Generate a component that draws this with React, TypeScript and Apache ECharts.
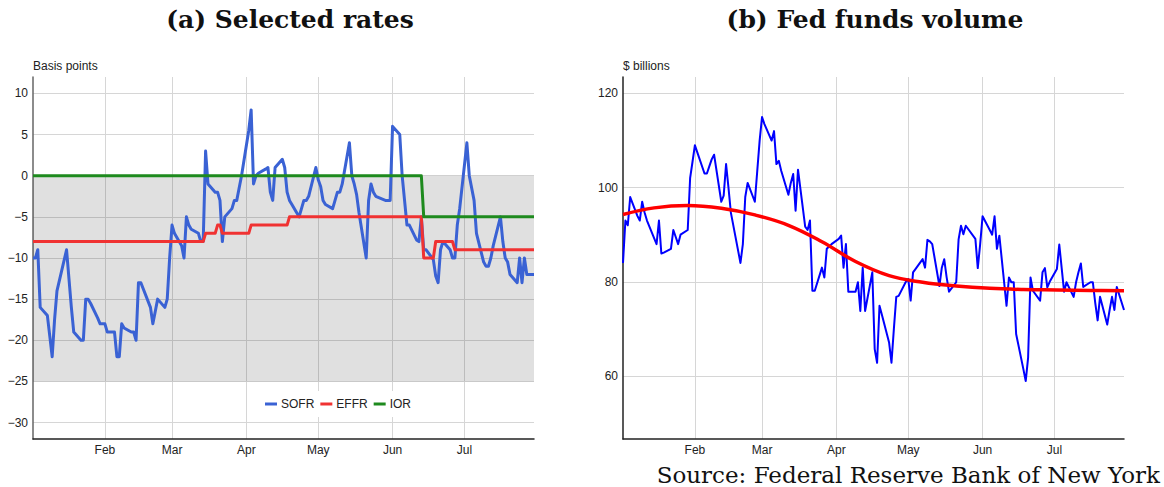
import React, { useEffect, useRef } from 'react';
import * as echarts from 'echarts';

// ---------- axis calendar ----------
const monthNames = ['Jan', 'Feb', 'Mar', 'Apr', 'May', 'Jun', 'Jul'];
const monthLengths = [31, 28, 31, 30, 31, 30, 31];
const firstDay = '01-02';
const lastDay = '07-30';

// ---------- (a) selected rates, basis points ----------
const sofr: [string, number][] = [
  ['01-02', -10], ['01-03', -10], ['01-04', -9], ['01-05', -16], ['01-08', -17], ['01-09', -19.5],
  ['01-10', -22], ['01-11', -17.5], ['01-12', -14], ['01-16', -9], ['01-17', -12.5], ['01-18', -16],
  ['01-19', -19], ['01-22', -20], ['01-23', -20], ['01-24', -15], ['01-25', -15], ['01-26', -15.5],
  ['01-29', -17.3], ['01-30', -18], ['01-31', -18], ['02-01', -18], ['02-02', -19], ['02-05', -19],
  ['02-06', -22], ['02-07', -22], ['02-08', -18], ['02-09', -18.5], ['02-12', -19], ['02-13', -19],
  ['02-14', -20], ['02-15', -13], ['02-16', -13], ['02-20', -16], ['02-21', -18], ['02-22', -16.5],
  ['02-23', -15], ['02-26', -16], ['02-27', -15], ['02-28', -10], ['03-01', -6], ['03-02', -7],
  ['03-05', -8.5], ['03-06', -10], ['03-07', -5], ['03-08', -6], ['03-09', -6.5], ['03-12', -7],
  ['03-13', -8], ['03-14', -8], ['03-15', 3], ['03-16', -1], ['03-19', -2], ['03-20', -2],
  ['03-21', -3], ['03-22', -8], ['03-23', -5], ['03-26', -4], ['03-27', -3], ['03-28', -3],
  ['03-29', -1.5], ['03-30', 0], ['04-02', 5.5], ['04-03', 8], ['04-04', -1], ['04-05', 0],
  ['04-06', 0.3], ['04-09', 0.8], ['04-10', 1], ['04-11', -2], ['04-12', -3], ['04-13', 1],
  ['04-16', 2], ['04-17', 1], ['04-18', -2], ['04-19', -3], ['04-20', -3.5], ['04-23', -5],
  ['04-24', -4], ['04-25', -3], ['04-26', -3], ['04-27', -2.5], ['04-30', 1], ['05-01', -0.5],
  ['05-02', -1.3], ['05-03', -3], ['05-04', -3.5], ['05-07', -4], ['05-08', -3], ['05-09', -2],
  ['05-10', -2], ['05-11', -1], ['05-14', 4], ['05-15', 0], ['05-16', -1], ['05-17', -2.3],
  ['05-18', -4.5], ['05-21', -10], ['05-22', -3], ['05-23', -1], ['05-24', -2], ['05-25', -2.5],
  ['05-29', -3], ['05-30', -3], ['05-31', -3], ['06-01', 6], ['06-04', 5], ['06-05', 0],
  ['06-06', -3], ['06-07', -6], ['06-08', -6], ['06-11', -7.8], ['06-12', -8], ['06-13', -5],
  ['06-14', -9], ['06-15', -9], ['06-18', -10.2], ['06-19', -12.2], ['06-20', -13], ['06-21', -9],
  ['06-22', -8], ['06-25', -9], ['06-26', -10], ['06-27', -10], ['06-28', -6], ['06-29', -4],
  ['07-02', 4], ['07-03', 0], ['07-05', -3], ['07-06', -7], ['07-09', -10.5], ['07-10', -11],
  ['07-11', -11], ['07-12', -10], ['07-13', -8.5], ['07-16', -5], ['07-17', -8], ['07-18', -10],
  ['07-19', -10.5], ['07-20', -12], ['07-23', -13], ['07-24', -10], ['07-25', -13], ['07-26', -10],
  ['07-27', -12], ['07-30', -12],
];

const effr: [string, number][] = [
  ['01-02', -8], ['03-14', -8], ['03-15', -7], ['03-19', -7], ['03-20', -6], ['03-21', -6],
  ['03-22', -7], ['04-02', -7], ['04-03', -6], ['04-18', -6], ['04-19', -5], ['06-13', -5],
  ['06-14', -10], ['06-18', -10], ['06-19', -8], ['06-26', -8], ['06-27', -9], ['07-30', -9],
];

const ior: [string, number][] = [
  ['01-02', 0], ['06-13', 0], ['06-14', -5], ['07-30', -5],
];

const shadedBand = [0, -25];

// ---------- (b) fed funds volume, $ billions ----------
const volume: [string, number][] = [
  ['01-02', 84], ['01-03', 93], ['01-04', 92], ['01-05', 98], ['01-08', 94], ['01-09', 93],
  ['01-10', 97], ['01-11', 94.7], ['01-12', 93], ['01-16', 88], ['01-17', 93], ['01-18', 86],
  ['01-19', 86.2], ['01-22', 87], ['01-23', 91], ['01-24', 89.5], ['01-25', 88], ['01-26', 90],
  ['01-29', 91], ['01-30', 102], ['01-31', 105.5], ['02-01', 109], ['02-02', 107.5], ['02-05', 103],
  ['02-06', 103], ['02-07', 104.5], ['02-08', 106], ['02-09', 107], ['02-12', 97], ['02-13', 98.3],
  ['02-14', 105], ['02-15', 100], ['02-16', 94.7], ['02-20', 84], ['02-21', 88], ['02-22', 98],
  ['02-23', 101], ['02-26', 97], ['02-27', 103.5], ['02-28', 110], ['03-01', 115], ['03-02', 113.5],
  ['03-05', 110], ['03-06', 112], ['03-07', 105], ['03-08', 105.7], ['03-09', 103.6], ['03-12', 98.5],
  ['03-13', 101], ['03-14', 102.9], ['03-15', 95.1], ['03-16', 103.8], ['03-19', 91.7], ['03-20', 91],
  ['03-21', 93], ['03-22', 78.1], ['03-23', 78.1], ['03-26', 83], ['03-27', 80.9], ['03-28', 87],
  ['03-29', 87.5], ['03-30', 88], ['04-02', 89.1], ['04-03', 89.8], ['04-04', 83], ['04-05', 88],
  ['04-06', 77.9], ['04-09', 77.9], ['04-10', 79.9], ['04-11', 73.8], ['04-12', 83], ['04-13', 73.8],
  ['04-16', 82], ['04-17', 65.7], ['04-18', 62.8], ['04-19', 74.9], ['04-20', 73], ['04-23', 67.1],
  ['04-24', 62.8], ['04-25', 70], ['04-26', 76.8], ['04-27', 77], ['04-30', 80], ['05-01', 80.6],
  ['05-02', 76], ['05-03', 82], ['05-04', 82.7], ['05-07', 84.8], ['05-08', 83], ['05-09', 88.9],
  ['05-10', 88.6], ['05-11', 88], ['05-14', 79.1], ['05-15', 83], ['05-16', 84.8], ['05-17', 81],
  ['05-18', 77.9], ['05-21', 79.9], ['05-22', 89], ['05-23', 91.9], ['05-24', 90.1], ['05-25', 91.9],
  ['05-29', 89.1], ['05-30', 82.9], ['05-31', 88], ['06-01', 93.9], ['06-04', 91], ['06-05', 90],
  ['06-06', 93.9], ['06-07', 87], ['06-08', 89.8], ['06-11', 74.9], ['06-12', 80.9], ['06-13', 79.9],
  ['06-14', 79.9], ['06-15', 68.9], ['06-18', 61.5], ['06-19', 58.9], ['06-20', 63.9], ['06-21', 80.9],
  ['06-22', 78.1], ['06-25', 76], ['06-26', 82], ['06-27', 82.9], ['06-28', 78.8], ['06-29', 80],
  ['07-02', 82.7], ['07-03', 87.9], ['07-05', 77.9], ['07-06', 79.9], ['07-09', 76.8], ['07-10', 79.9],
  ['07-11', 82], ['07-12', 83.9], ['07-13', 78.9], ['07-16', 79.9], ['07-17', 79.9], ['07-18', 75.5],
  ['07-19', 71.8], ['07-20', 76.8], ['07-23', 70.9], ['07-24', 74], ['07-25', 76.8], ['07-26', 74],
  ['07-27', 78.9], ['07-30', 74],
];

const volumeTrend: [string, number][] = [
  ['01-02', 94.3], ['01-15', 95.7], ['01-29', 96.2], ['02-12', 95.6], ['02-26', 94.2],
  ['03-12', 92.0], ['03-26', 88.5], ['04-09', 84.3], ['04-23', 81.3], ['05-07', 79.9],
  ['05-21', 79.1], ['06-04', 78.6], ['06-18', 78.35], ['07-02', 78.25], ['07-16', 78.15],
  ['07-30', 78.1],
];

const titleA = '(a) Selected rates';
const titleB = '(b) Fed funds volume';
const sourceText = 'Source: Federal Reserve Bank of New York';
const unitA = 'Basis points';
const unitB = '$ billions';

function buildDays(): string[] {
  const out: string[] = [];
  for (let m = 0; m < monthLengths.length; m++) {
    for (let d = 1; d <= monthLengths[m]; d++) {
      const s = `${String(m + 1).padStart(2, '0')}-${String(d).padStart(2, '0')}`;
      if (s >= firstDay && s <= lastDay) out.push(s);
    }
  }
  return out;
}

const SANS = '"Liberation Sans", Arial, sans-serif';
const SERIF = '"DejaVu Serif", serif';

export default function App() {
  const ref = useRef<HTMLDivElement>(null);

  useEffect(() => {
    if (!ref.current) return;
    const chart = echarts.init(ref.current, null, { renderer: 'svg' });
    const days = buildDays();
    const isMonthStart = (_i: number, v: string) => typeof v === 'string' && v.endsWith('-01');
    const monthLabel = (v: string) => (v.endsWith('-01') ? monthNames[parseInt(v.slice(0, 2), 10) - 1] : '');
    const minus = (v: number) => (v < 0 ? '\u2212' + Math.abs(v) : String(v));

    const xAxisBase = (gridIndex: number) => ({
      type: 'category',
      gridIndex,
      data: days,
      boundaryGap: false,
      axisLine: { show: true, onZero: false, lineStyle: { color: '#222', width: 1.5 } },
      axisTick: { show: false },
      axisLabel: {
        interval: isMonthStart,
        formatter: monthLabel,
        fontFamily: SANS,
        fontSize: 12,
        color: '#222',
        margin: 5,
      },
      splitLine: { show: true, interval: isMonthStart, lineStyle: { color: '#d6d6d6', width: 1 } },
    });

    const yAxisBase = (gridIndex: number, min: number, max: number, step: number, name: string, lineColor: string) => ({
      type: 'value',
      gridIndex,
      min,
      max,
      minInterval: step,
      maxInterval: step,
      splitNumber: Math.round((max - min) / step),
      name,
      nameLocation: 'end',
      nameGap: 11,
      nameTextStyle: { align: 'left', verticalAlign: 'middle', fontFamily: SANS, fontSize: 12, color: '#222' },
      axisLine: { show: true, lineStyle: { color: lineColor, width: 1.5 } },
      axisTick: { show: false },
      axisLabel: {
        formatter: minus,
        fontFamily: SANS,
        fontSize: 12,
        color: '#222',
        margin: 5,
        showMinLabel: false,
        showMaxLabel: false,
      },
      splitLine: { show: true, showMinLine: false, showMaxLine: false, lineStyle: { color: '#d6d6d6', width: 1 } },
    });

    const option: any = {
      animation: false,
      backgroundColor: '#fff',
      grid: [
        { left: 33, top: 77, width: 501, bottom: 48, containLabel: false, outerBoundsMode: 'none' },
        { left: 623, top: 77, width: 501, bottom: 48, containLabel: false, outerBoundsMode: 'none' },
      ],
      xAxis: [xAxisBase(0), xAxisBase(1)],
      yAxis: [
        yAxisBase(0, -32, 12, 5, unitA, '#666'),
        yAxisBase(1, 46.6, 123.5, 20, unitB, '#222'),
      ],
      legend: {
        data: ['SOFR', 'EFFR', 'IOR'],
        left: 260,
        top: 391,
        orient: 'horizontal',
        backgroundColor: '#fff',
        padding: [7, 5],
        icon: 'rect',
        itemWidth: 12,
        itemHeight: 3,
        itemGap: 6,
        textStyle: { fontFamily: SANS, fontSize: 12, color: '#222', padding: [0, 0, 0, -1] },
      },
      graphic: [
        {
          type: 'text', x: 290, y: 19,
          style: { text: titleA, align: 'center', verticalAlign: 'middle', fontFamily: SERIF, fontWeight: 'bold', fontSize: 25, fill: '#111' },
        },
        {
          type: 'text', x: 875, y: 19,
          style: { text: titleB, align: 'center', verticalAlign: 'middle', fontFamily: SERIF, fontWeight: 'bold', fontSize: 25, fill: '#111' },
        },
        {
          type: 'text', x: 1160, y: 475,
          style: { text: sourceText, align: 'right', verticalAlign: 'middle', fontFamily: SERIF, fontSize: 23, fill: '#111' },
        },
      ],
      series: [
        {
          name: 'SOFR', type: 'line', xAxisIndex: 0, yAxisIndex: 0, data: sofr,
          symbol: 'none', z: 3,
          lineStyle: { color: '#3a62d4', width: 3, join: 'round' },
          itemStyle: { color: '#3a62d4' },
          markArea: {
            silent: true,
            itemStyle: { color: 'rgba(0,0,0,0.12)' },
            label: { show: false },
            data: [[{ yAxis: shadedBand[0] }, { yAxis: shadedBand[1] }]],
          },
        },
        {
          name: 'EFFR', type: 'line', xAxisIndex: 0, yAxisIndex: 0, data: effr,
          symbol: 'none', z: 3,
          lineStyle: { color: '#f03232', width: 3, join: 'round' },
          itemStyle: { color: '#f03232' },
        },
        {
          name: 'IOR', type: 'line', xAxisIndex: 0, yAxisIndex: 0, data: ior,
          symbol: 'none', z: 3,
          lineStyle: { color: '#1e8a1e', width: 3, join: 'round' },
          itemStyle: { color: '#1e8a1e' },
        },
        {
          name: 'Volume', type: 'line', xAxisIndex: 1, yAxisIndex: 1, data: volume,
          symbol: 'none', z: 3,
          lineStyle: { color: '#0000ff', width: 2, join: 'round' },
          itemStyle: { color: '#0000ff' },
        },
        {
          name: 'Trend', type: 'line', xAxisIndex: 1, yAxisIndex: 1, data: volumeTrend,
          symbol: 'none', z: 4, smooth: 0.4,
          lineStyle: { color: '#ff0000', width: 3.5, join: 'round' },
          itemStyle: { color: '#ff0000' },
        },
      ],
    };

    chart.setOption(option);
    return () => chart.dispose();
  }, []);

  return (
    <div
      ref={ref}
      style={{ position: 'absolute', left: 0, top: 0, width: 1164, height: 487, background: '#fff' }}
    />
  );
}
